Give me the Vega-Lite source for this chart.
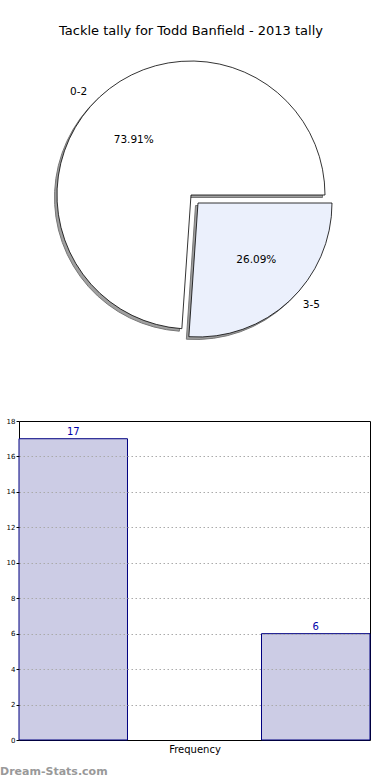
{
  "$schema": "https://vega.github.io/schema/vega-lite/v6.json",
  "padding": {"left": 0, "top": 25, "right": 0, "bottom": 0},
  "background": "white",
  "bounds": "flush",
  "spacing": 71,
  "config": {"font": "DejaVu Sans", "view": {"stroke": null}},
  "title": {"text": "Dream-Stats.com", "orient": "bottom", "anchor": "start", "frame": "group", "fontSize": 11, "fontWeight": "bold", "color": "#999999", "dx": -19, "offset": 11},
  "datasets": {
    "tally": [
      {"range": "0-2", "count": 17, "pct": "73.91%"},
      {"range": "3-5", "count": 6, "pct": "26.09%"}
    ]
  },
  "vconcat": [
    {
      "width": 344,
      "height": 310,
      "title": {"text": "Tackle tally for Todd Banfield - 2013 tally", "fontSize": 13, "fontWeight": "normal", "offset": 2, "color": "#000000"},
      "data": {"name": "tally"},
      "encoding": {
        "theta": {"field": "count", "type": "quantitative", "stack": true, "scale": {"domain": [0, 23], "range": [1.5708, 7.854]}},
        "order": {"field": "range", "type": "nominal", "sort": "descending"}
      },
      "layer": [
        {
          "mark": {"type": "arc", "outerRadius": 134, "fill": "#a0a0a0", "stroke": "#777777", "strokeWidth": 1, "xOffset": -2.5, "yOffset": 2.5},
          "encoding": {"opacity": {"condition": {"test": "datum.range == '0-2'", "value": 1}, "value": 0}}
        },
        {
          "mark": {"type": "arc", "outerRadius": 134, "fill": "#a0a0a0", "stroke": "#777777", "strokeWidth": 1, "xOffset": 4.5, "yOffset": 10.5},
          "encoding": {"opacity": {"condition": {"test": "datum.range == '3-5'", "value": 1}, "value": 0}}
        },
        {
          "mark": {"type": "arc", "outerRadius": 134, "fill": "#ffffff", "stroke": "#000000", "strokeWidth": 0.8},
          "encoding": {"opacity": {"condition": {"test": "datum.range == '0-2'", "value": 1}, "value": 0}}
        },
        {
          "mark": {"type": "arc", "outerRadius": 134, "fill": "#EBF0FC", "stroke": "#000000", "strokeWidth": 0.8, "xOffset": 7, "yOffset": 8},
          "encoding": {"opacity": {"condition": {"test": "datum.range == '3-5'", "value": 1}, "value": 0}}
        },
        {
          "mark": {"type": "text", "radius": 150, "fontSize": 10.5, "color": "#000000", "xOffset": -10, "yOffset": 7},
          "encoding": {"text": {"condition": {"test": "datum.range == '0-2'", "field": "range"}, "value": ""}}
        },
        {
          "mark": {"type": "text", "radius": 150, "fontSize": 10.5, "color": "#000000", "xOffset": 18, "yOffset": 0},
          "encoding": {"text": {"condition": {"test": "datum.range == '3-5'", "field": "range"}, "value": ""}}
        },
        {
          "mark": {"type": "text", "radius": 81, "fontSize": 10.5, "color": "#000000", "xOffset": -2, "yOffset": 4},
          "encoding": {"text": {"condition": {"test": "datum.range == '0-2'", "field": "pct"}, "value": ""}}
        },
        {
          "mark": {"type": "text", "radius": 81, "fontSize": 10.5, "color": "#000000", "xOffset": 10, "yOffset": 6},
          "encoding": {"text": {"condition": {"test": "datum.range == '3-5'", "field": "pct"}, "value": ""}}
        }
      ]
    },
    {
      "width": 351,
      "height": 319,
      "data": {"name": "tally"},
      "view": {"stroke": "#000000", "strokeWidth": 1},
      "encoding": {
        "x": {
          "field": "range", "type": "nominal",
          "scale": {"paddingInner": 0.5526, "paddingOuter": 0},
          "axis": {"title": "Frequency", "labels": false, "ticks": false, "domain": false, "titleFontSize": 10, "titleFontWeight": "normal", "titlePadding": 4, "titleColor": "#000000"}
        },
        "y": {
          "field": "count", "type": "quantitative",
          "scale": {"domain": [0, 18], "nice": false},
          "axis": {
            "title": null, "values": [0, 2, 4, 6, 8, 10, 12, 14, 16, 18], "labelFontSize": 7, "tickSize": 3, "labelPadding": 1,
            "grid": true, "gridDash": [1.5, 2.5], "gridColor": "#aaaaaa",
            "gridOpacity": {"condition": {"test": "datum.value === 0 || datum.value === 18", "value": 0}, "value": 1},
            "domain": false, "zindex": 1, "tickColor": "#000000", "labelColor": "#000000"
          }
        }
      },
      "layer": [
        {"mark": {"type": "bar", "fill": "#CCCCE5", "stroke": "#000080", "strokeWidth": 1}},
        {"mark": {"type": "text", "baseline": "bottom", "dy": -2, "fontSize": 10, "color": "#0000AA"}, "encoding": {"text": {"field": "count", "type": "quantitative"}}}
      ]
    }
  ]
}
